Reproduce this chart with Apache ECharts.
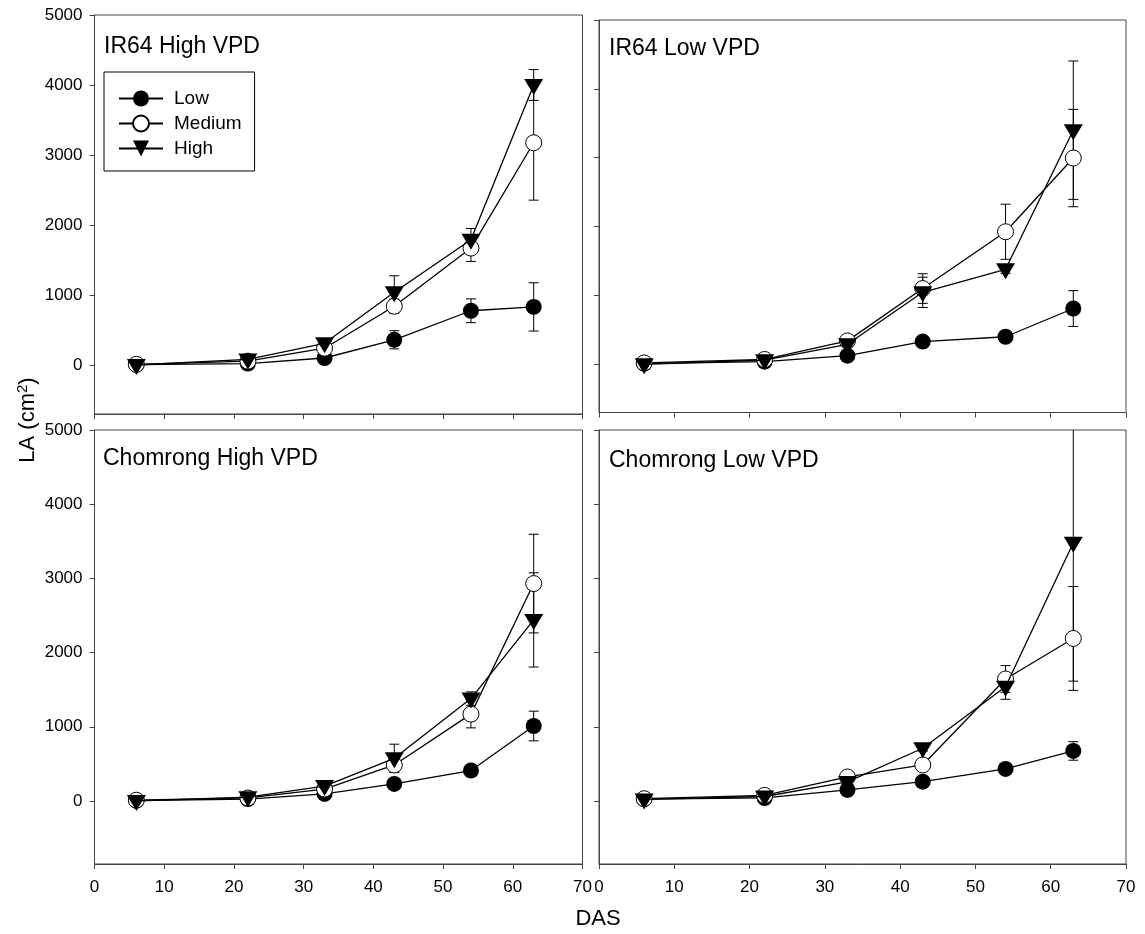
<!DOCTYPE html>
<html><head><meta charset="utf-8">
<script src="https://cdn.jsdelivr.net/npm/echarts@6/dist/echarts.min.js"></script>
<style>html,body{margin:0;padding:0;background:#fff}#c{width:1145px;height:934px}</style>
</head><body><div id="c"></div>
<script>
// ---------- data ----------
const days = [6, 22, 33, 43, 54, 63];
const yTickValues = [0, 1000, 2000, 3000, 4000, 5000];
const panelTitles = ['IR64 High VPD', 'IR64 Low VPD', 'Chomrong High VPD', 'Chomrong Low VPD'];
const seriesNames = ['Low', 'Medium', 'High'];

// IR64 High VPD
const ir64HighLow = [5, 20, 100, 360, 775, 830];
const ir64HighLowErr = [10, 15, 30, 130, 170, 345];
const ir64HighMed = [10, 55, 240, 840, 1670, 3175];
const ir64HighMedErr = [10, 20, 40, 100, 190, 820];
const ir64HighHigh = [0, 80, 310, 1040, 1790, 4000];
const ir64HighHighErr = [10, 20, 50, 235, 160, 220];

// IR64 Low VPD
const ir64LowLow = [10, 40, 125, 330, 400, 810];
const ir64LowLowErr = [10, 15, 30, 40, 50, 260];
const ir64LowMed = [20, 70, 340, 1100, 1925, 2995];
const ir64LowMedErr = [10, 20, 40, 215, 400, 707];
const ir64LowHigh = [0, 60, 290, 1045, 1380, 3400];
const ir64LowHighErr = [10, 20, 40, 220, 60, 1005];

// Chomrong High VPD
const chomHighLow = [5, 25, 95, 230, 410, 1010];
const chomHighLowErr = [10, 10, 20, 40, 50, 200];
const chomHighMed = [10, 40, 160, 485, 1170, 2930];
const chomHighMedErr = [10, 10, 30, 60, 185, 665];
const chomHighHigh = [0, 50, 200, 575, 1380, 2440];
const chomHighHighErr = [10, 15, 30, 190, 90, 635];

// Chomrong Low VPD
const chomLowLow = [25, 40, 148, 260, 431, 674];
const chomLowLowErr = [10, 10, 20, 30, 70, 125];
const chomLowMed = [30, 75, 323, 485, 1644, 2190];
const chomLowMedErr = [10, 10, 30, 50, 180, 700];
const chomLowHigh = [20, 60, 256, 710, 1540, 3480];
const chomLowHighErr = [10, 10, 30, 40, 170, 1865];

const panelData = [
  [[ir64HighLow, ir64HighLowErr], [ir64HighMed, ir64HighMedErr], [ir64HighHigh, ir64HighHighErr]],
  [[ir64LowLow, ir64LowLowErr], [ir64LowMed, ir64LowMedErr], [ir64LowHigh, ir64LowHighErr]],
  [[chomHighLow, chomHighLowErr], [chomHighMed, chomHighMedErr], [chomHighHigh, chomHighHighErr]],
  [[chomLowLow, chomLowLowErr], [chomLowMed, chomLowMedErr], [chomLowHigh, chomLowHighErr]]
];

// ---------- layout / style ----------
const FF = "'Liberation Sans', Arial, sans-serif";
const AX = '#444';
const grids = [
  {left: 94.5, top: 15, width: 488, height: 399},
  {left: 599, top: 20, width: 527, height: 392.5},
  {left: 94.5, top: 430, width: 488, height: 434},
  {left: 599, top: 430, width: 527, height: 434}
];
const yMins = [-700, -700, -850, -850];
const titlePos = [[104, 47], [609, 49], [103, 459], [609, 461]];

const markerStyles = [
  {symbol: 'circle', symbolSize: 16, itemStyle: {color: '#000'}},
  {symbol: 'circle', symbolSize: 16, itemStyle: {color: '#fff', borderColor: '#000', borderWidth: 1}},
  {symbol: 'triangle', symbolSize: [19, 16], symbolRotate: 180, symbolOffset: [0, 2], itemStyle: {color: '#000'}}
];

function errRender(params, api) {
  const x = api.value(0), lo = api.value(1), hi = api.value(2);
  const p1 = api.coord([x, hi]), p2 = api.coord([x, lo]);
  const c = 5;
  const st = {stroke: '#000', lineWidth: 1};
  return {type: 'group', children: [
    {type: 'line', shape: {x1: p1[0], y1: p1[1], x2: p2[0], y2: p2[1]}, style: st},
    {type: 'line', shape: {x1: p1[0] - c, y1: p1[1], x2: p1[0] + c, y2: p1[1]}, style: st},
    {type: 'line', shape: {x1: p2[0] - c, y1: p2[1], x2: p2[0] + c, y2: p2[1]}, style: st}
  ]};
}

const xAxes = grids.map((g, i) => ({
  type: 'value', gridIndex: i, min: 0, max: 70, interval: 10,
  axisLine: {show: true, onZero: false, lineStyle: {color: AX, width: 1}},
  axisTick: {show: true, inside: false, length: 5, lineStyle: {color: AX}},
  axisLabel: {show: i >= 2, fontSize: 17, color: '#000', fontFamily: FF, margin: 15, showMinLabel: true, showMaxLabel: true, hideOverlap: false,
              formatter: v => String(v)},
  splitLine: {show: false}
}));
const yAxes = grids.map((g, i) => ({
  type: 'value', gridIndex: i, min: yMins[i], max: 5000,
  axisLine: {show: true, onZero: false, lineStyle: {color: AX, width: 1}},
  axisTick: {show: true, inside: false, length: 5, lineStyle: {color: AX}, customValues: yTickValues},
  axisLabel: {show: i % 2 === 0, fontSize: 17, color: '#000', fontFamily: FF, margin: 12, customValues: yTickValues,
              formatter: v => String(v)},
  splitLine: {show: false}
}));

const series = [];
panelData.forEach((pd, i) => {
  pd.forEach((pair, k) => {
    const vals = pair[0], errs = pair[1];
    series.push({
      type: 'custom', name: seriesNames[k] + ' SE', xAxisIndex: i, yAxisIndex: i, z: 2, clip: true,
      renderItem: errRender, silent: true,
      data: days.map((d, j) => [d, vals[j] - errs[j], vals[j] + errs[j]])
    });
  });
  pd.forEach((pair, k) => {
    const vals = pair[0];
    series.push(Object.assign({
      type: 'line', name: seriesNames[k], xAxisIndex: i, yAxisIndex: i, z: 3 + k,
      data: days.map((d, j) => [d, vals[j]]),
      showSymbol: true, showAllSymbol: true, clip: false,
      lineStyle: {color: '#000', width: 1.3},
      emphasis: {disabled: true}
    }, markerStyles[k]));
  });
});

const chart = echarts.init(document.getElementById('c'), null, {renderer: 'canvas'});
chart.setOption({
  animation: false,
  backgroundColor: '#fff',
  textStyle: {fontFamily: FF},
  grid: grids.map(g => Object.assign({show: true, borderColor: AX, borderWidth: 1, backgroundColor: 'transparent'}, g)),
  xAxis: xAxes,
  yAxis: yAxes,
  legend: {
    data: seriesNames, orient: 'vertical', left: 104, top: 72,
    backgroundColor: '#fff', borderColor: '#000', borderWidth: 1,
    padding: [17, 13, 13, 14], itemWidth: 44, itemHeight: 20, itemGap: 6,
    symbolRotate: 'inherit', selectedMode: false,
    textStyle: {fontSize: 19, color: '#000', fontFamily: FF, padding: [0, 0, 0, 6]}
  },
  graphic: [
    ...panelTitles.map((t, i) => ({
      type: 'text', x: titlePos[i][0], y: titlePos[i][1], z: 10,
      style: {text: t, fontSize: 23, fill: '#000', fontFamily: FF, verticalAlign: 'middle'}
    })),
    {type: 'text', x: 598, y: 919, style: {text: 'DAS', fontSize: 22, fill: '#000', fontFamily: FF, align: 'center', verticalAlign: 'middle'}},
    {type: 'text', x: 28, y: 420, rotation: Math.PI / 2,
     style: {text: 'LA (cm{s|2})', fontSize: 22, fill: '#000', fontFamily: FF, align: 'center', verticalAlign: 'middle',
             rich: {s: {fontSize: 15, fontFamily: FF, fill: '#000', padding: [0, 0, 10, 0]}}}}
  ],
  series: series
});
</script></body></html>
